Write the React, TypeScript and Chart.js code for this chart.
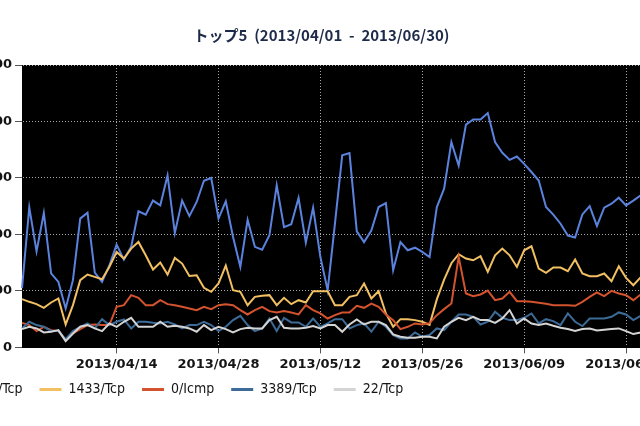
import React, { useEffect, useRef } from 'react';
import { Chart, registerables } from 'chart.js';

Chart.register(...registerables);

// ---- data ----
const START_DATE = '2013-04-01';
const DAY_COUNT = 91;

const TITLE = 'トップ5  (2013/04/01  -  2013/06/30)';

const TICK_LABELS = ['2013/04/14', '2013/04/28', '2013/05/12', '2013/05/26', '2013/06/09', '2013/06/23'];

const SERIES_NAMES = ['445/Tcp', '1433/Tcp', '0/Icmp', '3389/Tcp', '22/Tcp'];
const SERIES_COLORS = ['#5b83de', '#f2c062', '#d2532e', '#3d6b97', '#d4d4d4'];

const tcp445 = [
  1050, 2480, 1700, 2380, 1310, 1160, 690, 1190, 2280, 2385,
  1325, 1160, 1450, 1820, 1555, 1780, 2410, 2350, 2600, 2515,
  3045, 2025, 2600, 2325, 2575, 2950, 3000, 2280, 2585, 1955,
  1425, 2260, 1780, 1730, 1985, 2870, 2130, 2180, 2645, 1855,
  2475, 1600, 1010, 2190, 3400, 3440, 2055, 1865, 2070, 2485,
  2555, 1365, 1865, 1720, 1765, 1690, 1600, 2485, 2810, 3635,
  3220, 3945, 4035, 4035, 4150, 3635, 3445, 3320, 3380, 3250,
  3105, 2955, 2485, 2350, 2190, 1980, 1945, 2355, 2500, 2150,
  2475, 2545, 2650, 2515, 2600, 2690, 2740, 2610, 2480, 2700,
  2580,
];

const tcp1433 = [
  854, 807, 766, 701, 795, 866, 406, 748, 1190, 1290,
  1249, 1207, 1425, 1690, 1573, 1750, 1867, 1632, 1378, 1502,
  1290, 1584, 1484, 1266, 1278, 1054, 984, 1131, 1450, 1013,
  984, 748, 895, 913, 925, 748, 878, 766, 836, 795,
  995, 995, 995, 748, 748, 895, 925, 1131, 866, 995,
  601, 365, 500, 500, 483, 454, 400, 850, 1200, 1490,
  1650, 1573, 1543, 1614, 1337, 1631, 1749, 1631, 1425, 1720,
  1790, 1396, 1319, 1414, 1414, 1349, 1555, 1308, 1261, 1261,
  1308, 1172, 1437, 1231, 1101, 1240, 1280, 1190, 1320, 1250,
  1210,
];

const icmp0 = [
  435, 395, 289, 365, 306, 289, 130, 247, 323, 395,
  406, 395, 395, 719, 748, 925, 878, 748, 748, 836,
  766, 748, 719, 689, 660, 719, 678, 748, 766, 748,
  660, 583, 660, 719, 642, 619, 642, 619, 583, 748,
  660, 601, 512, 571, 619, 619, 736, 701, 777, 719,
  583, 483, 323, 365, 424, 406, 430, 571, 678, 777,
  1602, 954, 907, 937, 1007, 836, 866, 984, 819, 819,
  807, 789, 772, 748, 748, 748, 736, 807, 895, 972,
  907, 1001, 954, 925, 836, 937, 900, 960, 880, 920,
  870,
];

const tcp3389 = [
  336, 454, 395, 365, 289, 289, 147, 289, 365, 424,
  336, 500, 395, 454, 495, 336, 454, 454, 435, 424,
  454, 406, 336, 395, 395, 454, 395, 289, 365, 483,
  559, 395, 289, 336, 512, 289, 524, 442, 442, 365,
  512, 365, 424, 500, 500, 336, 395, 424, 277, 454,
  365, 218, 159, 159, 265, 188, 218, 336, 306, 454,
  583, 583, 542, 406, 454, 630, 524, 483, 483, 524,
  601, 424, 500, 465, 395, 601, 454, 377, 512, 512,
  512, 542, 619, 583, 483, 559, 520, 580, 500, 540,
  510,
];

const tcp22 = [
  324, 365, 336, 265, 277, 306, 112, 247, 365, 395,
  336, 289, 424, 365, 454, 524, 365, 365, 365, 454,
  365, 383, 365, 336, 277, 395, 306, 365, 324, 265,
  324, 348, 336, 336, 483, 542, 348, 336, 336, 348,
  377, 336, 395, 395, 277, 406, 495, 406, 454, 454,
  395, 230, 188, 171, 171, 188, 188, 159, 365, 454,
  524, 483, 542, 483, 483, 435, 512, 660, 424, 512,
  424, 395, 424, 383, 348, 324, 289, 324, 336, 300,
  312, 324, 336, 289, 236, 265, 280, 300, 270, 290,
  260,
];

const SERIES_VALUES = [tcp445, tcp1433, icmp0, tcp3389, tcp22];

const Y_MIN = 0;
const Y_MAX = 5000;
const Y_STEP = 1000;

function buildDays(start: string, count: number): string[] {
  const out: string[] = [];
  const d = new Date(start + 'T00:00:00Z');
  for (let i = 0; i < count; i++) {
    const y = d.getUTCFullYear();
    const m = String(d.getUTCMonth() + 1).padStart(2, '0');
    const dd = String(d.getUTCDate()).padStart(2, '0');
    out.push(`${y}/${m}/${dd}`);
    d.setUTCDate(d.getUTCDate() + 1);
  }
  return out;
}

const DAYS = buildDays(START_DATE, DAY_COUNT);

// ---- layout / style ----
const CANVAS_LEFT = -36;
const CANVAS_W = 716;
const CANVAS_H = 426;
const Y_AXIS_W = 58;
const LEGEND_DX = -36;
const LEGEND_DY = -9.5;
const AXIS_FONT = "'DejaVu Sans', Verdana, sans-serif";
const LEGEND_FONT = "'DejaVu Sans Condensed', 'DejaVu Sans', sans-serif";
const GRID_COLOR = '#a8a8a8';
const TICK_COLOR = '#555555';

const plotBackground = {
  id: 'plotBackground',
  beforeDraw(chart: any) {
    const { ctx, chartArea: a } = chart;
    if (!a) return;
    ctx.save();
    ctx.fillStyle = '#000000';
    ctx.fillRect(a.left, a.top, a.right - a.left, a.bottom - a.top);
    ctx.restore();
  },
};

const legendOffset = {
  id: 'legendOffset',
  afterLayout(chart: any) {
    const lg = chart.legend;
    if (!lg) return;
    lg.left += LEGEND_DX;
    lg.right += LEGEND_DX;
    lg.top += LEGEND_DY;
    lg.bottom += LEGEND_DY;
  },
};

export default function App() {
  const canvasRef = useRef<HTMLCanvasElement | null>(null);

  useEffect(() => {
    const canvas = canvasRef.current;
    if (!canvas) return;
    const n = SERIES_NAMES.length;
    const chart = new Chart(canvas, {
      type: 'line',
      data: {
        labels: DAYS,
        datasets: SERIES_NAMES.map((name, i) => ({
          label: name,
          data: SERIES_VALUES[i],
          borderColor: SERIES_COLORS[i],
          backgroundColor: SERIES_COLORS[i],
          borderWidth: 2,
          pointRadius: 0,
          pointHoverRadius: 0,
          tension: 0,
          fill: false,
          order: n - 1 - i,
        })),
      },
      options: {
        responsive: false,
        animation: false,
        devicePixelRatio: 1,
        layout: { padding: { top: 0, right: 1, bottom: 10, left: 0 } },
        plugins: {
          title: {
            display: true,
            text: TITLE,
            color: '#1e2a4a',
            font: { family: "'Noto Sans CJK JP', sans-serif", size: 15, weight: 'bold' },
            padding: { top: 26, bottom: 21 },
          },
          legend: {
            display: true,
            position: 'bottom',
            align: 'start',
            labels: {
              boxWidth: 22,
              boxHeight: 3,
              padding: 17,
              color: '#151515',
              font: { family: LEGEND_FONT, size: 14 },
              sort: (a: any, b: any) => a.datasetIndex - b.datasetIndex,
              generateLabels: (c: any) =>
                (Chart.defaults.plugins.legend.labels.generateLabels as any)(c).map((l: any) => ({
                  ...l,
                  lineWidth: 0,
                })),
            },
          },
          tooltip: { enabled: false },
        },
        scales: {
          x: {
            type: 'category',
            offset: false,
            border: { display: true, color: '#000000', width: 1, dash: [1, 2] },
            grid: {
              display: true,
              drawOnChartArea: true,
              drawTicks: true,
              tickLength: 6,
              lineWidth: 1,
              color: (ctx: any) =>
                ctx.tick && TICK_LABELS.includes(DAYS[ctx.index]) ? GRID_COLOR : 'rgba(0,0,0,0)',
              tickColor: (ctx: any) =>
                ctx.tick && TICK_LABELS.includes(DAYS[ctx.index]) ? TICK_COLOR : 'rgba(0,0,0,0)',
            },
            ticks: {
              autoSkip: false,
              maxRotation: 0,
              minRotation: 0,
              padding: 3,
              color: '#151515',
              font: { family: AXIS_FONT, size: 13, weight: 'bold' },
              callback: (_v: any, idx: number) => (TICK_LABELS.includes(DAYS[idx]) ? DAYS[idx] : ''),
            },
          },
          y: {
            min: Y_MIN,
            max: Y_MAX,
            border: { display: true, color: '#000000', width: 1, dash: [1, 2] },
            grid: {
              display: true,
              tickLength: 7,
              lineWidth: 1,
              color: (ctx: any) => (ctx.tick && ctx.tick.value === 0 ? 'rgba(0,0,0,0)' : GRID_COLOR),
              tickColor: TICK_COLOR,
            },
            ticks: {
              stepSize: Y_STEP,
              padding: 3,
              color: '#151515',
              font: { family: AXIS_FONT, size: 13, weight: 'bold' },
              callback: (v: any) => String(v),
            },
            afterFit: (scale: any) => {
              scale.width = Y_AXIS_W;
            },
          },
        },
      },
      plugins: [plotBackground, legendOffset],
    } as any);
    return () => chart.destroy();
  }, []);

  return (
    <div style={{ position: 'fixed', left: 0, top: 0, width: 640, height: 426, overflow: 'hidden', background: '#ffffff' }}>
      <canvas
        ref={canvasRef}
        width={CANVAS_W}
        height={CANVAS_H}
        style={{ position: 'absolute', left: CANVAS_LEFT, top: 0, width: CANVAS_W, height: CANVAS_H }}
      />
    </div>
  );
}
